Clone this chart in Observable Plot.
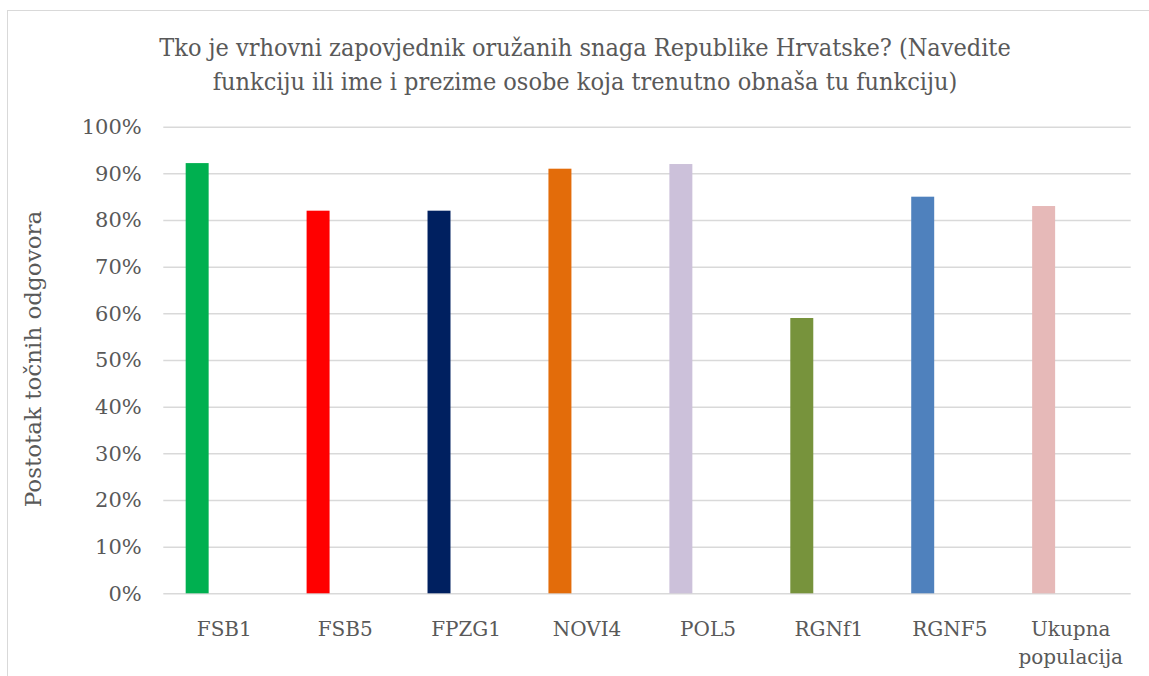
<!DOCTYPE html>
<html>
<head>
<meta charset="utf-8">
<script src="https://cdn.jsdelivr.net/npm/d3@7"></script>
<script src="https://cdn.jsdelivr.net/npm/@observablehq/plot@0.6"></script>
<style>
  body { margin: 0; background: #fff; }
  #wrap { position: relative; width: 1149px; height: 676px; overflow: hidden; background: #fff; }
  #frame { position: absolute; left: 7px; top: 10px; width: 1200px; height: 720px; border: 1.5px solid #d9d9d9; box-sizing: border-box; }
  #title { position: absolute; left: 0; width: 1170px; top: 31px; text-align: center; font-family: "DejaVu Serif Condensed", "DejaVu Serif", serif; font-size: 25px; line-height: 34px; color: #595959; }
  #ytitle { position: absolute; left: 33px; top: 359px; transform: translate(-50%, -50%) rotate(-90deg); white-space: nowrap; font-family: "DejaVu Serif", serif; font-size: 23px; color: #595959; }
  #chart { position: absolute; left: 0; top: 110px; }
</style>
</head>
<body>
<div id="wrap">
  <div id="frame"></div>
  <div id="title">Tko je vrhovni zapovjednik oružanih snaga Republike Hrvatske? (Navedite<br>funkciju ili ime i prezime osobe koja trenutno obnaša tu funkciju)</div>
  <div id="ytitle">Postotak točnih odgovora</div>
  <div id="chart"></div>
</div>
<script>
const categories = ["FSB1", "FSB5", "FPZG1", "NOVI4", "POL5", "RGNf1", "RGNF5", "Ukupna populacija"];
const values = [0.922, 0.82, 0.82, 0.91, 0.92, 0.59, 0.85, 0.83];
const colors = ["#00b050", "#ff0000", "#002060", "#e36c0a", "#ccc1da", "#77933c", "#4f81bd", "#e6b9b8"];
const yTicks = [0, 0.1, 0.2, 0.3, 0.4, 0.5, 0.6, 0.7, 0.8, 0.9, 1.0];

const data = categories.map((c, i) => ({cat: c, val: values[i], color: colors[i]}));

const plot = Plot.plot({
  width: 1149,
  height: 566,
  marginTop: 16.7,
  marginBottom: 82.7,
  marginLeft: 163.3,
  marginRight: 18.3,
  style: {fontFamily: "DejaVu Serif, serif", color: "#595959", background: "transparent"},
  x: {type: "band", domain: categories, paddingInner: 0.81, paddingOuter: 0.405, round: false, axis: null},
  y: {domain: [0, 1], axis: null},
  color: {type: "identity"},
  marks: [
    Plot.ruleY(yTicks, {stroke: "#d9d9d9", strokeWidth: 1.5}),
    Plot.barY(data, {x: "cat", y: "val", fill: "color", dx: -26.6}),
    Plot.axisY({ticks: yTicks, tickFormat: d3.format(".0%"), tickSize: 0, tickPadding: 22, fontSize: 21, fill: "#595959", label: null}),
    Plot.axisX({tickSize: 0, tickPadding: 22, fontSize: 20, fill: "#595959", lineHeight: 1.4, label: null,
      tickFormat: d => d === "Ukupna populacija" ? "Ukupna\npopulacija" : d})
  ]
});
document.getElementById("chart").appendChild(plot);
</script>
</body>
</html>
